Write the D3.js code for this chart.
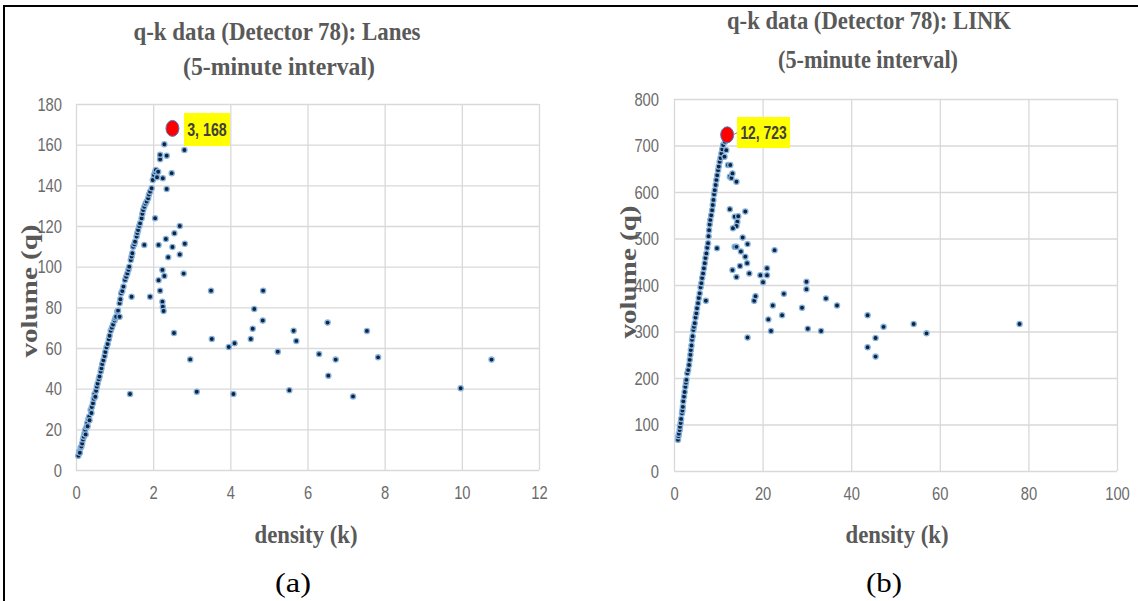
<!DOCTYPE html>
<html>
<head>
<meta charset="utf-8">
<script src="https://cdn.jsdelivr.net/npm/d3@7"></script>
<style>
  body { margin: 0; background: #fff; }
  svg { display: block; }
</style>
</head>
<body>
<div id="chart"></div>
<script>
// q-k points, Detector 78, per lane: [density k, volume q]
var lanesPoints = [
  [0.06,7],[0.08,9],[0.1,8.5],[0.12,11],[0.14,11.5],[0.16,13],[0.18,15],[0.2,16.4],[0.22,18],[0.24,19.7],
  [0.25,17.5],[0.27,21],[0.29,23],[0.3,21.5],[0.32,25],[0.34,26.2],[0.35,24.5],[0.38,29.5],[0.4,28],[0.41,31],
  [0.44,32.8],[0.46,35],[0.48,37.4],[0.5,36],[0.52,39],[0.54,41],[0.56,42.5],[0.59,44.6],[0.61,46],[0.64,48.4],
  [0.66,50],[0.68,52.1],[0.71,54],[0.74,56.1],[0.76,58],[0.79,60.3],[0.82,62],[0.85,64.3],[0.87,66],[0.9,68.5],
  [0.93,70],[0.96,71.5],[1.0,73.5],[1.02,74.6],[1.04,75.4],[1.07,77.9],[1.09,78.4],[1.13,75.4],[1.13,82],[1.15,84],
  [1.17,86.9],[1.2,88],[1.23,90.2],[1.27,93.5],[1.3,95],[1.33,96.7],[1.36,98.5],[1.38,100],[1.42,103.3],[1.44,105],
  [1.46,106.6],[1.48,109.8],[1.51,111],[1.53,112.3],[1.57,114.8],[1.59,116.5],[1.61,118],[1.64,120],[1.66,121.3],[1.7,123.8],
  [1.72,126],[1.74,127.9],[1.77,129.5],[1.8,131],[1.83,132],[1.87,133.6],[1.89,135.5],[1.92,136.9],[1.96,138.6],[1.99,142.6],
  [2.02,145.1],[2.05,146.5],[2.07,147.6],[2.1,144],[2.13,146.7],[2.18,152.8],[2.18,155],[2.29,160.2],
  [2.35,154.6],[2.81,157.4],[2.25,143.5],[2.48,146],[2.35,138.2],[2.05,123.8],[2.69,120],[2.55,116.4],[2.33,113.6],[2.14,110.7],
  [1.77,110.7],[2.82,111.3],[2.5,109.7],[2.69,106],[2.39,104.6],[2.79,96.6],[2.24,98.4],[2.29,95.4],[2.14,93.3],[3.5,88.2],
  [4.85,88.2],[2.18,88.2],[1.44,85.2],[1.92,85.2],[2.24,82.8],[2.25,80.3],[2.27,78.2],[4.62,79.2],[2.54,67.4],[4.84,73.5],
  [4.58,69.5],[3.52,64.4],[4.53,64.4],[3.96,60.5],[4.11,62.3],[5.64,68.5],[5.71,63.5],[5.23,58.2],[2.96,54.4],[1.4,37.4],
  [3.13,38.5],[4.08,37.4],[5.53,39.2],[6.52,72.5],[6.3,57],[6.73,54.3],[6.54,46.4],[7.54,68.4],[7.83,55.4],[7.18,36.2],
  [9.97,40.2],[10.77,54.3]
];
// q-k points, Detector 78, whole link
var linkPoints = [
  [0.9,67],[1.0,75],[1.1,80],[1.28,88],[1.35,95],[1.5,103],[1.6,112],[1.8,124],[1.9,130],[2.0,138],
  [2.1,150],[2.26,160],[2.4,170],[2.56,181],[2.7,190],[2.8,196],[3.0,210],[3.2,217],[3.4,228],[3.55,239],
  [3.7,250],[3.8,260],[3.95,270],[4.07,282],[4.2,290],[4.37,303],[4.5,310],[4.68,318],[4.85,330],[5.05,339],
  [5.2,350],[5.43,361],[5.6,372],[5.8,382],[6.0,395],[6.18,404],[6.35,415],[6.56,425],[6.75,436],[6.94,447],
  [7.1,458],[7.31,468],[7.5,480],[7.69,490],[7.8,505],[7.92,518],[8.05,530],[8.2,540],[8.4,550],[8.6,561],
  [8.75,572],[8.9,583],[9.05,595],[9.2,604],[9.4,615],[9.57,626],[9.75,636],[9.95,647],[10.1,655],[10.3,665],
  [10.5,673],[10.7,683],[10.9,692],[11.1,701],[11.4,676],[11.8,690],[11.5,708],
  [12.2,658],[12.7,658],[12.6,633],[12.96,630],[14.1,622],[13.2,640],[12.6,563],[16.1,558],[13.7,547],[14.5,548],
  [14.3,536],[14.1,527],[13.3,522],[9.7,479],[15.5,502],[13.7,482],[14.1,482],[15.1,472],[16.6,488],[16.1,461],
  [16.5,447],[14.9,441],[13.2,432],[14.1,417],[17,425],[7.2,366],[16.6,287],[18.1,366],[18.4,376],[19.5,421],
  [20.1,406],[21,421],[21,436],[21.3,326],[21.9,301],[22.3,356],[22.7,475],[24.4,335],[24.8,381],[28.9,351],
  [29.9,407],[29.9,391],[30.2,306],[33.2,301],[34.3,371],[36.8,356],[43.7,335],[43.7,266],[47.3,310],[45.5,286],
  [45.5,246],[54.1,316],[57,296],[78,316]
];
// highlighted capacity point and its label
var lanesPeak = [2.5, 168];
var lanesPeakLabel = "3, 168";
var linkPeak = [12, 723];
var linkPeakLabel = "12, 723";

var lanesXTicks = [0, 2, 4, 6, 8, 10, 12];
var lanesYTicks = [0, 20, 40, 60, 80, 100, 120, 140, 160, 180];
var linkXTicks = [0, 20, 40, 60, 80, 100];
var linkYTicks = [0, 100, 200, 300, 400, 500, 600, 700, 800];

var width = 1138, height = 601;
var svg = d3.select("#chart").append("svg").attr("width", width).attr("height", height);

var titleFont = "Times New Roman, Liberation Serif, Times, serif";
var tickFont = "Liberation Sans, Arial, sans-serif";

// outer frame (top and left edges only)
svg.append("line").attr("x1", 3).attr("y1", 6).attr("x2", width).attr("y2", 6).attr("stroke", "#000").attr("stroke-width", 2);
svg.append("line").attr("x1", 4).attr("y1", 6).attr("x2", 4).attr("y2", height).attr("stroke", "#000").attr("stroke-width", 2);

function squeeze(sel, perChar) {
  // the picture is narrowed horizontally, so glyphs are squeezed to the widths seen there
  sel.attr("textLength", function() { return this.textContent.length * perChar; })
     .attr("lengthAdjust", "spacingAndGlyphs");
}

function panel(opt) {
  var x = d3.scaleLinear().domain(opt.xDomain).range([opt.left, opt.right]);
  var y = d3.scaleLinear().domain(opt.yDomain).range([opt.bottom, opt.top]);
  var w = opt.right - opt.left, h = opt.bottom - opt.top;

  var gy = svg.append("g").attr("transform", "translate(" + opt.left + ",0)")
    .call(d3.axisLeft(y).tickValues(opt.yTicks).tickSize(-w).tickPadding(opt.yPad).tickFormat(d3.format("d")));
  var gx = svg.append("g").attr("transform", "translate(0," + opt.bottom + ")")
    .call(d3.axisBottom(x).tickValues(opt.xTicks).tickSize(-h).tickPadding(16).tickFormat(d3.format("d")));
  [gx, gy].forEach(function(g) {
    g.select(".domain").remove();
    g.selectAll(".tick line").attr("stroke", "#d9d9d9").attr("stroke-width", 1.3);
    g.selectAll(".tick text").attr("fill", "#6b6b6b").attr("font-family", tickFont).attr("font-size", 19)
      .call(squeeze, 8.2);
  });

  svg.append("g").selectAll("circle").data(opt.points).enter().append("circle")
    .attr("cx", function(d) { return x(d[0]); })
    .attr("cy", function(d) { return y(d[1]); })
    .attr("r", 2.6)
    .attr("fill", "#10233f")
    .attr("stroke", "#86b4e0")
    .attr("stroke-width", 1.3);

  // highlighted point
  var px = x(opt.peak[0]), py = y(opt.peak[1]);
  svg.append("ellipse").attr("cx", px).attr("cy", py).attr("rx", 6.5).attr("ry", 8)
    .attr("fill", "#ff0000").attr("stroke", "#4a7ebb").attr("stroke-width", 1);
  if (opt.leader) {
    svg.append("line").attr("x1", px + 6).attr("y1", py).attr("x2", opt.box[0]).attr("y2", py - 2)
      .attr("stroke", "#7f7f7f").attr("stroke-width", 1);
  }
  svg.append("rect").attr("x", opt.box[0]).attr("y", opt.box[1]).attr("width", opt.box[2]).attr("height", opt.box[3])
    .attr("fill", "#ffff00");
  svg.append("text").attr("x", opt.box[0] + opt.box[2] / 2).attr("y", opt.box[1] + opt.box[3] / 2 + 6)
    .attr("text-anchor", "middle").attr("font-family", tickFont).attr("font-weight", "bold")
    .attr("font-size", 18).attr("fill", "#404040").text(opt.peakLabel)
    .call(squeeze, 6.6);

  // titles
  opt.title.forEach(function(t) {
    svg.append("text").attr("x", t.x).attr("y", t.y).attr("text-anchor", "middle")
      .attr("font-family", titleFont).attr("font-weight", "bold").attr("font-size", 25)
      .attr("fill", "#595959").attr("textLength", t.len).attr("lengthAdjust", "spacingAndGlyphs").text(t.text);
  });
  svg.append("text").attr("transform", "translate(" + opt.yTitle[0] + "," + opt.yTitle[1] + ") rotate(-90)")
    .attr("text-anchor", "middle").attr("font-family", titleFont).attr("font-weight", "bold").attr("font-size", 24)
    .attr("fill", "#595959").attr("textLength", 133).attr("lengthAdjust", "spacingAndGlyphs").text("volume (q)");
  svg.append("text").attr("x", opt.xTitle[0]).attr("y", opt.xTitle[1]).attr("text-anchor", "middle")
    .attr("font-family", titleFont).attr("font-weight", "bold").attr("font-size", 25)
    .attr("fill", "#595959").attr("textLength", 103).attr("lengthAdjust", "spacingAndGlyphs").text("density (k)");
  svg.append("text").attr("x", opt.caption[0]).attr("y", opt.caption[1]).attr("text-anchor", "middle")
    .attr("font-family", titleFont).attr("font-size", 27).attr("fill", "#000")
    .attr("textLength", 36).attr("lengthAdjust", "spacingAndGlyphs").text(opt.caption[2]);
}

panel({
  points: lanesPoints, peak: lanesPeak, peakLabel: lanesPeakLabel,
  xDomain: [0, 12], yDomain: [0, 180], xTicks: lanesXTicks, yTicks: lanesYTicks,
  left: 76, right: 539, top: 104, bottom: 470, yPad: 14,
  box: [184, 113, 46, 33], leader: false,
  title: [{text: "q-k data (Detector 78): Lanes", x: 277, y: 40, len: 287},
          {text: "(5-minute interval)", x: 279, y: 75, len: 192}],
  yTitle: [37, 291], xTitle: [306, 543], caption: [293, 592, "(a)"]
});

panel({
  points: linkPoints, peak: linkPeak, peakLabel: linkPeakLabel,
  xDomain: [0, 100], yDomain: [0, 800], xTicks: linkXTicks, yTicks: linkYTicks,
  left: 674, right: 1117, top: 99, bottom: 471, yPad: 15,
  box: [737, 117, 53, 31], leader: true,
  title: [{text: "q-k data (Detector 78): LINK", x: 869, y: 29, len: 284},
          {text: "(5-minute interval)", x: 868, y: 68, len: 180}],
  yTitle: [636, 272], xTitle: [897, 543], caption: [884, 592, "(b)"]
});
</script>
</body>
</html>
